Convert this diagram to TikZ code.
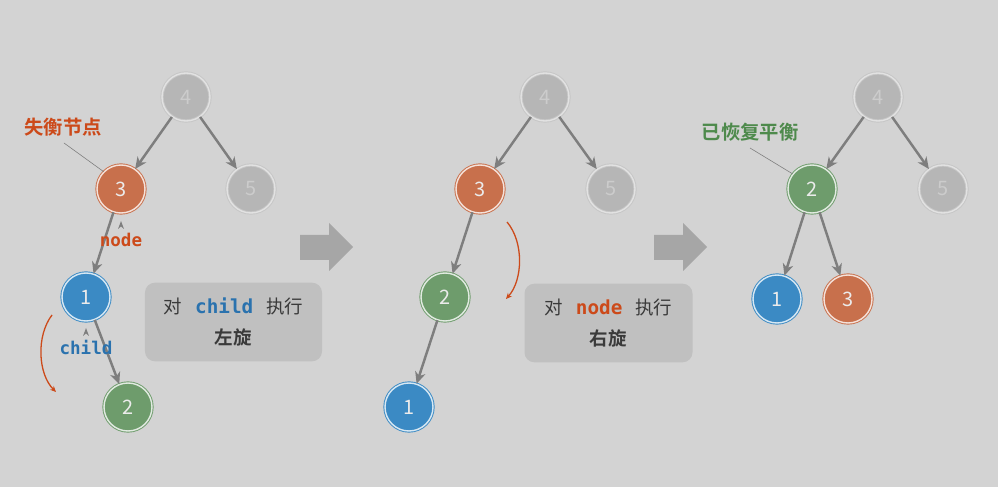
\documentclass[tikz,border=0pt]{standalone}
\usepackage{fontspec}
\setmainfont{Noto Sans CJK SC}[BoldFont={Noto Sans CJK SC Bold}]
\setmonofont{DejaVu Sans Mono}
\usepackage{tikz}
\usetikzlibrary{arrows.meta,positioning}
\definecolor{bgcol}{HTML}{D3D3D3}
\definecolor{nodegray}{HTML}{B6B6B6}
\definecolor{ringgray}{HTML}{C6C6C6}
\definecolor{nodeorange}{HTML}{C8704C}
\definecolor{nodeblue}{HTML}{3B8AC4}
\definecolor{nodegreen}{HTML}{6E9C6C}
\definecolor{edgegray}{HTML}{7E7E7E}
\definecolor{boxgray}{HTML}{C0C0C0}
\definecolor{arrowgray}{HTML}{A6A6A6}
\definecolor{labelred}{HTML}{CC4A1A}
\definecolor{labelblue}{HTML}{2A72AE}
\definecolor{labelgreen}{HTML}{4E8A4C}
\definecolor{textdark}{HTML}{3A3A3A}
\tikzset
{
    treenode/.style   = {circle, minimum size=1.44cm, inner sep=0pt, line width=0.8pt, double distance=1.2pt, font=\fontsize{17pt}{17pt}\selectfont, text=white!92!black},
    graynode/.style   = {treenode, draw=ringgray, double=ringgray!50!white, fill=nodegray, text=white!80!black},
    orangenode/.style = {treenode, draw=nodeorange, double=white!80!nodeorange, fill=nodeorange},
    bluenode/.style   = {treenode, draw=nodeblue, double=white!80!nodeblue, fill=nodeblue},
    greennode/.style  = {treenode, draw=nodegreen, double=white!80!nodegreen, fill=nodegreen},
    edge/.style       = {-{Stealth[length=10pt, width=9pt, inset=3pt]}, draw=edgegray, line width=2.1pt},
    pointer/.style    = {draw=edgegray, line width=0.5pt},
    rotarrow/.style   = {-{Stealth[length=5pt, width=4.5pt, inset=1.5pt]}, draw=labelred, line width=1.1pt},
    caption/.style    = {inner sep=0pt, font=\fontsize{16.5pt}{16.5pt}\selectfont\bfseries},
    codelabel/.style  = {inner sep=0pt, font=\fontsize{15pt}{15pt}\selectfont\ttfamily\bfseries},
    opbox/.style      = {fill=boxgray, rounded corners=0.3cm, minimum height=2.36cm, align=center, text=textdark, font=\fontsize{15.8pt}{26.5pt}\selectfont}
}
\newcommand{\gap}{\hspace{11pt}}
\newcommand{\codeword}[2]{{\fontsize{16.5pt}{16.5pt}\selectfont\ttfamily\bfseries\color{#1}#2}}

\begin{document}
\begin{tikzpicture}[x=0.03cm, y=-0.03cm]
    \fill [bgcol] (0,0) rectangle (998,487);
    \useasboundingbox (0,0) rectangle (998,487);

    % before: child is rotated left
    \node [graynode]   (a4) at (186,97)  {4};
    \node [graynode]   (a5) at (251,189) {5};
    \node [orangenode] (a3) at (121,189) {3};
    \node [bluenode]   (a1) at (86,297)  {1};
    \node [greennode]  (a2) at (128,407) {2};
    \draw [edge] (a4) -- (a3);
    \draw [edge] (a4) -- (a5);
    \draw [edge] (a3) -- (a1);
    \draw [edge] (a1) -- (a2);

    \node [caption, text=labelred] (lost) at (63,127) {失衡节点};
    \coordinate (lostfoot) at (64,143);
    \draw [pointer] (lostfoot) -- (a3.135);

    \node [codelabel, text=labelred]  (nodetag)  at (121,240) {node};
    \fill [edgegray] (118,229) -- (121,221) -- (124,229) -- (121,226.5) -- cycle;
    \node [codelabel, text=labelblue] (childtag) at (86,347)  {child};
    \fill [edgegray] (83,336) -- (86,328) -- (89,336) -- (86,333.5) -- cycle;

    \coordinate (rotA0) at (52,315);
    \coordinate (rotA1) at (56,392);
    \draw [rotarrow] (rotA0) .. controls (36,336) and (38,374) .. (rotA1);

    \node [opbox, minimum width=5.31cm] (opA) at (233.5,322)
        {对\gap\codeword{labelblue}{child}\gap 执行\\\textbf{左旋}};

    \foreach \dx in {0,354}
        \fill [arrowgray, xshift=\dx*0.03cm] (300,235) -- (329,235) -- (329,223) -- (353,247) -- (329,271) -- (329,260) -- (300,260) -- cycle;

    % middle: node is rotated right
    \node [graynode]   (b4) at (545,97)  {4};
    \node [graynode]   (b5) at (611,189) {5};
    \node [orangenode] (b3) at (480,189) {3};
    \node [greennode]  (b2) at (445,297) {2};
    \node [bluenode]   (b1) at (409,407) {1};
    \draw [edge] (b4) -- (b3);
    \draw [edge] (b4) -- (b5);
    \draw [edge] (b3) -- (b2);
    \draw [edge] (b2) -- (b1);

    \coordinate (rotB0) at (507,222);
    \coordinate (rotB1) at (506,299);
    \draw [rotarrow] (rotB0) .. controls (524,242) and (523,280) .. (rotB1);

    \node [opbox, minimum width=5.04cm] (opB) at (608.5,323)
        {对\gap\codeword{labelred}{node}\gap 执行\\\textbf{右旋}};

    % after: balanced again
    \node [graynode]   (c4) at (878,97)  {4};
    \node [graynode]   (c5) at (943,189) {5};
    \node [greennode]  (c2) at (812,189) {2};
    \node [bluenode]   (c1) at (777,299) {1};
    \node [orangenode] (c3) at (848,299) {3};
    \draw [edge] (c4) -- (c2);
    \draw [edge] (c4) -- (c5);
    \draw [edge] (c2) -- (c1);
    \draw [edge] (c2) -- (c3);

    \node [caption, text=labelgreen] (balanced) at (750,132) {已恢复平衡};
    \coordinate (balancedfoot) at (750,148);
    \draw [pointer] (balancedfoot) -- (c2.142);
\end{tikzpicture}
\end{document}
